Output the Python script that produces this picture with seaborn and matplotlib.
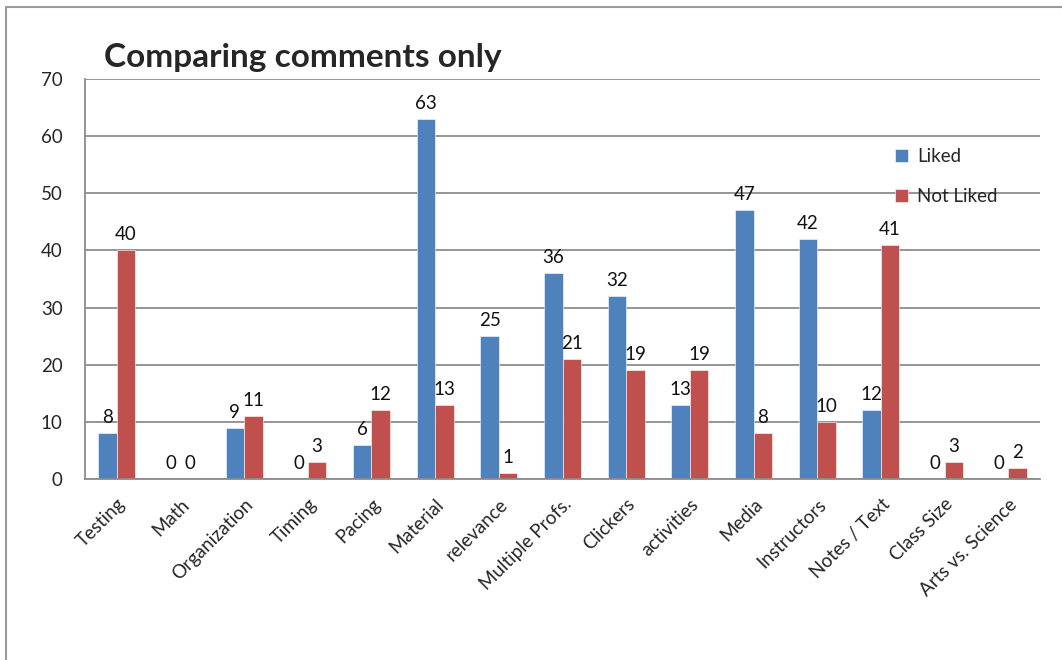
import matplotlib
matplotlib.use("Agg")
import matplotlib.pyplot as plt
from matplotlib.lines import Line2D
import seaborn as sns
import pandas as pd

categories = ["Testing", "Math", "Organization", "Timing", "Pacing", "Material",
              "relevance", "Multiple Profs.", "Clickers", "activities", "Media",
              "Instructors", "Notes / Text", "Class Size", "Arts vs. Science"]
liked = [8, 0, 9, 0, 6, 63, 25, 36, 32, 13, 47, 42, 12, 0, 0]
not_liked = [40, 0, 11, 3, 12, 13, 1, 21, 19, 19, 8, 10, 41, 3, 2]
series = ["Liked", "Not Liked"]
colors = ["#4F81BD", "#C0504D"]

df = pd.DataFrame({
    "category": categories * 2,
    "count": liked + not_liked,
    "series": [series[0]] * len(categories) + [series[1]] * len(categories),
})

sns.set_style("white")
plt.rcParams["font.family"] = ["Lato", "DejaVu Sans"]

fig = plt.figure(figsize=(10.62, 6.6), dpi=100)
ax = fig.add_axes([85 / 1062, 1 - 479 / 660, (1040 - 85) / 1062, 400 / 660])

sns.barplot(data=df, x="category", y="count", hue="series", order=categories,
            hue_order=series, palette=colors, width=0.58, saturation=1,
            edgecolor="white", linewidth=0.4, ax=ax)

for cont in ax.containers:
    ax.bar_label(cont, fmt="%d", padding=5, fontsize=13.5, color="#111111")

ax.set_ylim(0, 70)
ax.set_yticks(range(0, 71, 10))
ax.set_xlim(-0.5, len(categories) - 0.5)
ax.yaxis.grid(True, color="#8C8C8C", linewidth=1.3)
ax.set_axisbelow(True)
ax.set_xlabel("")
ax.set_ylabel("")

for side in ["top", "right"]:
    ax.spines[side].set_visible(False)
for side in ["left", "bottom"]:
    ax.spines[side].set_color("#8C8C8C")
    ax.spines[side].set_linewidth(1.3)

# category boundary ticks on the x axis
ax.set_xticks([i - 0.5 for i in range(len(categories) + 1)], minor=True)
ax.tick_params(axis="x", which="minor", length=7, color="#8C8C8C", width=1.3)
ax.tick_params(axis="x", which="major", length=0, pad=12)
ax.tick_params(axis="y", length=10, color="#8C8C8C", width=1.3, labelsize=13.5, pad=6)
ax.set_xticks(range(len(categories)))
ax.set_xticklabels(categories, rotation=45, ha="right", rotation_mode="anchor",
                   fontsize=13.5)

ax.legend(loc="upper left", bbox_to_anchor=(0.83, 0.87), frameon=False,
          fontsize=13.5, handlelength=0.7, handleheight=0.7,
          labelspacing=1.25, handletextpad=0.5)

fig.text(104 / 1062, 1 - 57 / 660, "Comparing comments only", fontsize=24,
         fontweight="bold", va="center", ha="left")

# chart frame
fig.add_artist(Line2D([6 / 1062, 1.0], [1 - 7 / 660] * 2, color="#9A9A9A",
                      linewidth=1.5, transform=fig.transFigure))
fig.add_artist(Line2D([6 / 1062] * 2, [0.0, 1 - 7 / 660], color="#9A9A9A",
                      linewidth=1.5, transform=fig.transFigure))

fig.savefig("out.png", dpi=100)
